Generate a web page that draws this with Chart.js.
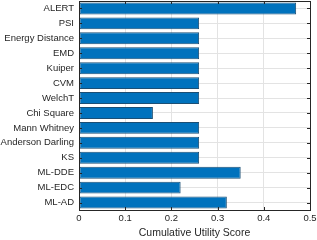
<!DOCTYPE html>
<html lang="en">
  <head>
    <meta charset="UTF-8"/>
    <title>Cumulative Utility Score</title>
    <style>
      html, body { margin: 0; padding: 0; background: #fff; }
    </style>
  </head>
  <body>
  <div>
    <canvas id="myChart" width="317" height="240"></canvas>
  </div>
  <script src="https://cdn.jsdelivr.net/npm/chart.js"></script>
  <script>
    var labels = ['ALERT', 'PSI', 'Energy Distance', 'EMD', 'Kuiper', 'CVM', 'WelchT',
      'Chi Square', 'Mann Whitney', 'Anderson Darling', 'KS', 'ML-DDE', 'ML-EDC', 'ML-AD'];
    var scores = [0.47, 0.26, 0.26, 0.26, 0.26, 0.26, 0.26, 0.16, 0.26, 0.26, 0.26, 0.35, 0.22, 0.32];
    var xTicks = [0, 0.1, 0.2, 0.3, 0.4, 0.5];

    // box around the axes with small inward ticks, like matlab
    const boxPlugin = {
      id: 'box',
      afterDraw(chart) {
        const ctx = chart.ctx;
        const a = chart.chartArea;
        const xs = chart.scales.x;
        const ys = chart.scales.y;
        ctx.save();
        ctx.strokeStyle = '#262626';
        ctx.lineWidth = 1;
        ctx.beginPath();
        xTicks.forEach((v) => {
          const px = Math.round(xs.getPixelForValue(v)) + 0.5;
          ctx.moveTo(px, a.bottom); ctx.lineTo(px, a.bottom - 3);
          ctx.moveTo(px, a.top); ctx.lineTo(px, a.top + 3);
        });
        labels.forEach((l, i) => {
          const py = Math.round(ys.getPixelForValue(i)) + 0.5;
          ctx.moveTo(a.left, py); ctx.lineTo(a.left + 3, py);
          ctx.moveTo(a.right, py); ctx.lineTo(a.right - 3, py);
        });
        ctx.stroke();
        ctx.strokeRect(Math.round(a.left) + 0.5, Math.round(a.top) + 0.5,
          Math.round(a.right - a.left), Math.round(a.bottom - a.top));
        ctx.restore();
      }
    };

    const data = {
      labels: labels,
      datasets: [{
        data: scores,
        backgroundColor: '#0072BD',
        borderColor: '#1c4f74',
        borderWidth: 1,
        borderSkipped: false,
        categoryPercentage: 1.0,
        barPercentage: 0.8
      }]
    };
    const config = {
      type: 'bar',
      data,
      plugins: [boxPlugin],
      options: {
        indexAxis: 'y',
        responsive: false,
        animation: false,
        layout: { padding: { top: 1, right: 7, left: 0, bottom: 0 } },
        plugins: { legend: { display: false }, tooltip: { enabled: false } },
        scales: {
          x: {
            min: 0, max: 0.5,
            afterBuildTicks: (s) => { s.ticks = xTicks.map((v) => ({ value: v })); },
            afterFit: (s) => { s.height = 30; s.paddingLeft = 0; s.paddingRight = 0; },
            grid: { color: '#e3e3e3', drawTicks: false },
            border: { display: false },
            ticks: {
              color: '#262626', padding: 3,
              font: { family: 'Liberation Sans, Arial', size: 9.5 },
              callback: (v) => String(Math.round(v * 10) / 10)
            },
            title: {
              display: true, text: 'Cumulative Utility Score', color: '#262626',
              font: { family: 'Liberation Sans, Arial', size: 10.5 }, padding: { top: 2, bottom: 1 }
            }
          },
          y: {
            afterFit: (s) => { s.width = 79; s.paddingTop = 0; s.paddingBottom = 0; },
            grid: { color: '#e3e3e3', offset: false, drawTicks: false },
            border: { display: false },
            ticks: {
              autoSkip: false,
              color: '#262626', padding: 5,
              font: { family: 'Liberation Sans, Arial', size: 9.5 }
            }
          }
        }
      }
    };
    var myChart = new Chart(document.getElementById('myChart'), config);
  </script>
  </body>
</html>
